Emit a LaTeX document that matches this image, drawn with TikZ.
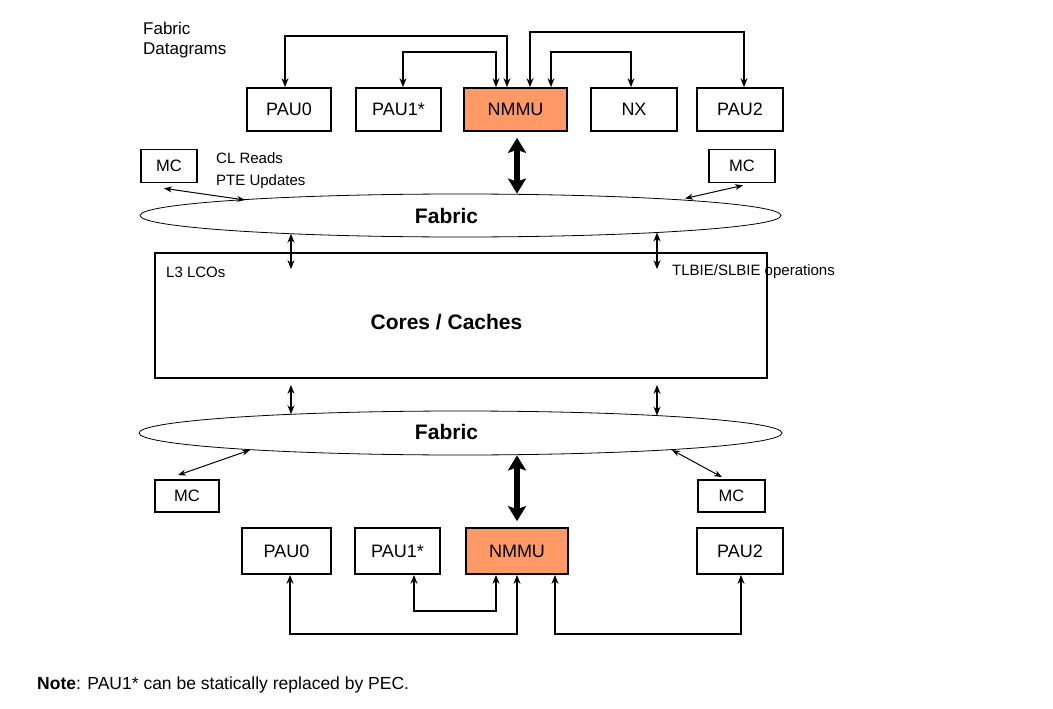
\documentclass[tikz,border=0pt]{standalone}
\usepackage{fontspec}
\setmainfont{Liberation Sans}
\usetikzlibrary{arrows.meta,positioning,shapes.geometric,calc}
\definecolor{nmmuorange}{HTML}{FF9966}
\tikzset{
  unit/.style={draw, line width=1.7pt, minimum height=43pt, inner sep=2pt,
               font=\fontsize{18}{20}\selectfont},
  nmmubox/.style={unit, fill=nmmuorange},
  mcbox/.style={draw, line width=1.7pt, minimum height=33pt, inner sep=2pt,
                font=\fontsize{16.5}{20}\selectfont},
  fabric/.style={draw, ellipse, line width=0.8pt, inner sep=0pt},
  biglab/.style={font=\fontsize{21}{24}\selectfont\bfseries, inner sep=0pt},
  lab/.style={font=\fontsize{15}{22}\selectfont, align=left, inner sep=0pt},
  link/.style={{Stealth[length=9pt,width=7pt]}-{Stealth[length=9pt,width=7pt]}, line width=1.4pt},
  mclink/.style={{Stealth[length=8pt,width=6pt]}-{Stealth[length=8pt,width=6pt]}, line width=1pt},
  bus/.style={{Stealth[length=15pt,width=18pt,inset=3pt]}-{Stealth[length=15pt,width=18pt,inset=3pt]}, line width=6pt},
}

\begin{document}
\begin{tikzpicture}[x=1pt, y=-1pt]
  \useasboundingbox (0,0) rectangle (1053,709);
  % top units
  \node[lab, font=\fontsize{17}{20}\selectfont, anchor=west] (dgram) at (143,40) {Fabric\\Datagrams};
  \node[unit, minimum width=84pt] (pau0) at (289,109.5) {PAU0};
  \node[unit, minimum width=85pt] (pau1) at (398.5,109.5) {PAU1*};
  \node[nmmubox, minimum width=103pt] (nmmu) at (515.5,109.5) {NMMU};
  \node[unit, minimum width=86pt] (nx) at (634,109.5) {NX};
  \node[unit, minimum width=86pt] (pau2) at (740,109.5) {PAU2};
  \node[mcbox, minimum width=56pt] (mcnw) at (169,166) {MC};
  \node[mcbox, minimum width=66pt] (mcne) at (742,166) {MC};
  \node[lab, anchor=west] (clreads) at (216,171) {CL Reads\\PTE Updates};
  % fabric, cores, fabric
  \node[fabric, minimum width=641pt, minimum height=43pt] (fabtop) at (460.5,215.5) {};
  \node[biglab] (fabtoplab) at (446.5,216) {Fabric};
  \node[draw, line width=1.7pt, minimum width=612pt, minimum height=125pt] (core) at (461,315.5) {};
  \node[biglab] (corelab) at (446.5,322) {Cores / Caches};
  \node[lab, anchor=west] (lcos) at (166,272) {L3 LCOs};
  \node[lab, anchor=west] (tlbie) at (672,272) {TLBIE/SLBIE operations};
  \node[fabric, minimum width=643pt, minimum height=44pt] (fabbot) at (460.5,433) {};
  \node[biglab] (fabbotlab) at (446.5,432) {Fabric};
  % bottom units
  \node[mcbox, minimum width=64pt, minimum height=32pt] (mcsw) at (187,496) {MC};
  \node[mcbox, minimum width=67pt, minimum height=32pt] (mcse) at (731.5,496) {MC};
  \node[unit, minimum height=46pt, minimum width=89pt] (pau0b) at (286.5,551) {PAU0};
  \node[unit, minimum height=46pt, minimum width=85pt] (pau1b) at (397.5,551) {PAU1*};
  \node[nmmubox, minimum height=46pt, minimum width=102pt] (nmmub) at (517,551) {NMMU};
  \node[unit, minimum height=46pt, minimum width=86pt] (pau2b) at (740,551) {PAU2};
  \node[lab, font=\fontsize{17.5}{20}\selectfont, anchor=west] (note) at (37,685) {\textbf{Note}: PAU1* can be statically replaced by PEC.};
  % attach points on the fabrics
  \coordinate (ftmcw) at ($(fabtop.center)+(-215.5,-15.5)$);
  \coordinate (ftmce) at ($(fabtop.center)+(224.5,-17)$);
  \coordinate (ftcw) at ($(fabtop.center)+(-169.5,18.2)$);
  \coordinate (ftce) at ($(fabtop.center)+(196.5,17)$);
  \coordinate (fbcw) at ($(fabbot.center)+(-169.5,-18.7)$);
  \coordinate (fbce) at ($(fabbot.center)+(196.5,-17.4)$);
  \coordinate (fbmcw) at ($(fabbot.center)+(-210.5,17)$);
  \coordinate (fbmce) at ($(fabbot.center)+(211.5,17)$);
  % datagram links
  \draw[link] ([xshift=-4pt]pau0.north) -- ++(0,-51) -| ([xshift=-8.5pt]nmmu.north);
  \draw[link] ([xshift=4.5pt]pau1.north) -- ++(0,-35) -| ([xshift=-19.5pt]nmmu.north);
  \draw[link] ([xshift=14.5pt]nmmu.north) -- ++(0,-55) -| ([xshift=4pt]pau2.north);
  \draw[link] ([xshift=35.5pt]nmmu.north) -- ++(0,-35) -| ([xshift=-3pt]nx.north);
  \draw[link] ([xshift=3.5pt]pau0b.south) -- ++(0,59) -| (nmmub.south);
  \draw[link] ([xshift=16.5pt]pau1b.south) -- ++(0,36) -| ([xshift=-21pt]nmmub.south);
  \draw[link] ([xshift=38pt]nmmub.south) -- ++(0,59) -| ([xshift=1pt]pau2b.south);
  % fabric links
  \draw[bus] ([xshift=1.5pt,yshift=-6pt]nmmu.south) -- ([xshift=1.5pt]nmmu.south |- fabtop.north);
  \draw[bus] (nmmub.north |- fabbot.south) -- ([yshift=6pt]nmmub.north);
  \draw[mclink] ([xshift=-5pt,yshift=-5pt]mcnw.south) -- (ftmcw);
  \draw[mclink] (ftmce) -- ([xshift=1pt,yshift=-2pt]mcne.south);
  \draw[mclink] ([xshift=-9pt,yshift=4pt]mcsw.north) -- (fbmcw);
  \draw[mclink] (fbmce) -- ([xshift=-9.5pt,yshift=2pt]mcse.north);
  \draw[link] (ftcw) -- ([yshift=-17pt]ftcw |- core.north);
  \draw[link] (ftce) -- ([yshift=-17pt]ftce |- core.north);
  \draw[link] ([yshift=-6pt]fbcw |- core.south) -- (fbcw);
  \draw[link] ([yshift=-6pt]fbce |- core.south) -- (fbce);
\end{tikzpicture}
\end{document}
